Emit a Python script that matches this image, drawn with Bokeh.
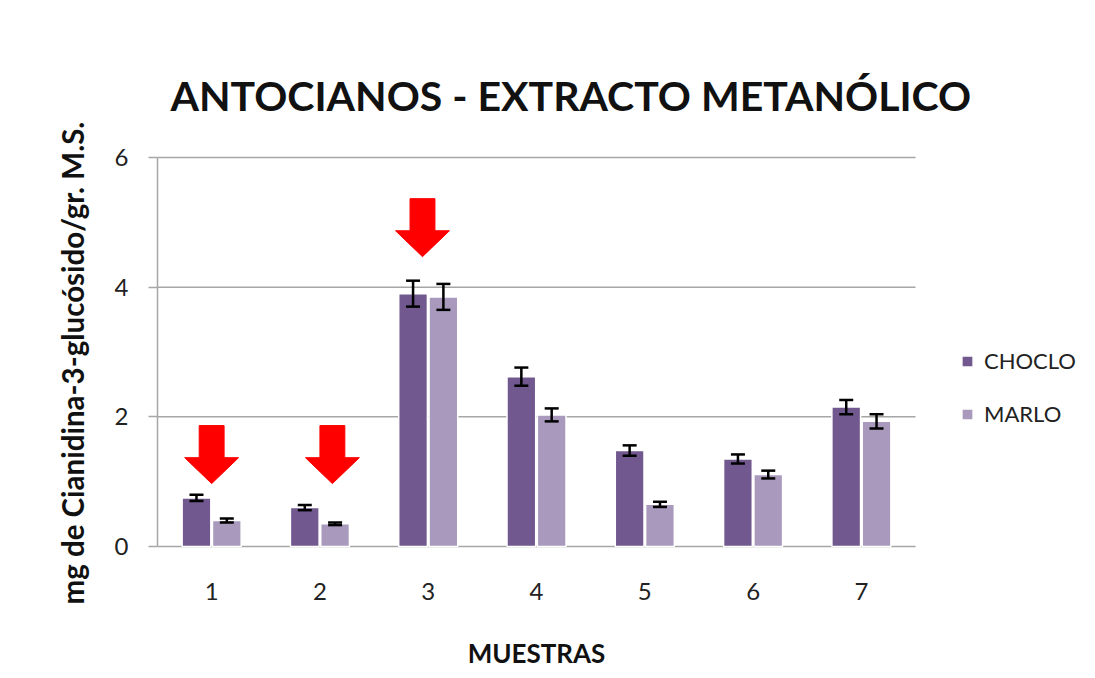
import numpy as np
from bokeh.plotting import figure
from bokeh.models import (ColumnDataSource, Whisker, TeeHead, Legend, LegendItem,
                          FixedTicker, Range1d, Label)
from bokeh.core.properties import value
from bokeh.embed import file_html
from bokeh.resources import INLINE

# ---------------- data ----------------
muestras = [1, 2, 3, 4, 5, 6, 7]
muestras_labels = ["1", "2", "3", "4", "5", "6", "7"]
choclo = [0.75, 0.60, 3.90, 2.62, 1.48, 1.35, 2.15]
choclo_err = [0.05, 0.04, 0.20, 0.14, 0.08, 0.07, 0.11]
marlo = [0.40, 0.35, 3.85, 2.03, 0.65, 1.11, 1.93]
marlo_err = [0.03, 0.02, 0.20, 0.10, 0.04, 0.06, 0.11]
series_names = ["CHOCLO", "MARLO"]
y_ticks = [0, 2, 4, 6]

# red arrows (highlighted samples): x position and tip height
arrow_x = [1.0, 2.115, 2.947]
arrow_tip = [0.97, 0.97, 4.47]

# ---------------- layout / styling ----------------
W, H = 1095, 678
LEFT = 157                     # left edge of the category area (px)
TOP = 40                       # top edge of the drawing frame (px)
PX_X = 108.29                  # px per category
Y0_PX, Y6_PX = 546, 157        # pixel rows of value 0 and 6
PX_Y = (Y0_PX - Y6_PX) / 6.0
C_CHOCLO = "#71588F"
C_MARLO = "#A99ABD"
GRID = "#a6a6a6"
FONT = "Lato"
BAR_W = 0.265
OFF = 0.14
X_LO, X_HI = 0.5, 7.5


def dx(px):   # screen column -> data x
    return X_LO + (px - LEFT) / PX_X


def dy(py):   # screen row -> data y
    return (Y0_PX - py) / PX_Y


p = figure(width=W, height=H, output_backend="svg", toolbar_location=None,
           x_range=Range1d(X_LO, dx(W)), y_range=Range1d(dy(H), dy(TOP)),
           x_axis_location=None,
           min_border_left=LEFT, min_border_right=0, min_border_top=TOP,
           min_border_bottom=0)
p.outline_line_color = None
p.background_fill_color = "white"
p.border_fill_color = "white"
p.xgrid.grid_line_color = None
p.ygrid.grid_line_color = None

# gridlines / baseline limited to the category extent
p.segment(x0=[X_LO] * len(y_ticks), x1=[X_HI] * len(y_ticks), y0=y_ticks, y1=y_ticks,
          line_color=GRID, line_width=1.5)

x = np.array(muestras, dtype=float)
src_c = ColumnDataSource(dict(x=x - OFF, top=choclo,
                              upper=np.array(choclo) + np.array(choclo_err),
                              lower=np.array(choclo) - np.array(choclo_err)))
src_m = ColumnDataSource(dict(x=x + OFF, top=marlo,
                              upper=np.array(marlo) + np.array(marlo_err),
                              lower=np.array(marlo) - np.array(marlo_err)))

r_c = p.vbar(x="x", top="top", width=BAR_W, source=src_c, fill_color=C_CHOCLO,
             line_color="white", line_width=1.5)
r_m = p.vbar(x="x", top="top", width=BAR_W, source=src_m, fill_color=C_MARLO,
             line_color="white", line_width=1.5)

for src in (src_c, src_m):
    w = Whisker(base="x", upper="upper", lower="lower", source=src,
                line_color="black", line_width=2.5, level="overlay",
                upper_head=TeeHead(size=14, line_width=2.5, line_color="black"),
                lower_head=TeeHead(size=14, line_width=2.5, line_color="black"))
    p.add_layout(w)

# red arrows
SHAFT_HW = 0.115
HEAD_HW = 0.249
HEAD_H = 0.40
TOTAL_H = 0.895
xs, ys = [], []
for ax, at in zip(arrow_x, arrow_tip):
    xs.append([ax - SHAFT_HW, ax + SHAFT_HW, ax + SHAFT_HW, ax + HEAD_HW, ax,
               ax - HEAD_HW, ax - SHAFT_HW])
    ys.append([at + TOTAL_H, at + TOTAL_H, at + HEAD_H, at + HEAD_H, at,
               at + HEAD_H, at + HEAD_H])
p.patches(xs, ys, fill_color="#FF0000", line_color="#FF0000", line_width=1)

# category tick labels
p.text(x=muestras, y=[dy(591)] * len(muestras), text=muestras_labels,
       text_font=value(FONT), text_font_size="24px", text_color="#222222",
       text_align="center", text_baseline="alphabetic")

# value axis
yax = p.yaxis[0]
yax.ticker = FixedTicker(ticks=y_ticks)
yax.bounds = (0, 6)
yax.axis_line_color = GRID
yax.axis_line_width = 1.5
yax.major_tick_line_color = GRID
yax.major_tick_line_width = 1.5
yax.minor_tick_line_color = None
yax.major_tick_out = 9
yax.major_tick_in = 0
yax.major_label_standoff = 20
yax.major_label_text_font = FONT
yax.major_label_text_font_size = "24px"
yax.major_label_text_color = "#222222"
yax.axis_label = "mg de  Cianidina-3-glucósido/gr. M.S."
yax.axis_label_text_font = FONT
yax.axis_label_text_font_style = "bold"
yax.axis_label_text_font_size = "29.5px"
yax.axis_label_text_color = "#111111"
yax.axis_label_standoff = 22

# title and category-axis title
p.add_layout(Label(x=dx(170), y=dy(95), text="ANTOCIANOS - EXTRACTO METANÓLICO",
                   text_font=FONT, text_font_style="bold", text_font_size="41px",
                   text_align="left", text_baseline="alphabetic", text_color="#111111"))
p.add_layout(Label(x=dx(536), y=dy(652), text="MUESTRAS",
                   text_font=FONT, text_font_style="bold", text_font_size="26px",
                   text_align="center", text_baseline="alphabetic", text_color="#111111"))

legend = Legend(items=[LegendItem(label=series_names[0], renderers=[r_c]),
                       LegendItem(label=series_names[1], renderers=[r_m])],
                location=(803, 251), orientation="vertical",
                glyph_width=14, glyph_height=14, label_height=24, spacing=26,
                label_standoff=10, padding=0, margin=0,
                label_text_font=FONT, label_text_font_size="22px",
                label_text_color="#222222",
                border_line_color=None, background_fill_alpha=0)
p.add_layout(legend, "center")

open("out.html", "w").write(file_html(p, INLINE))
